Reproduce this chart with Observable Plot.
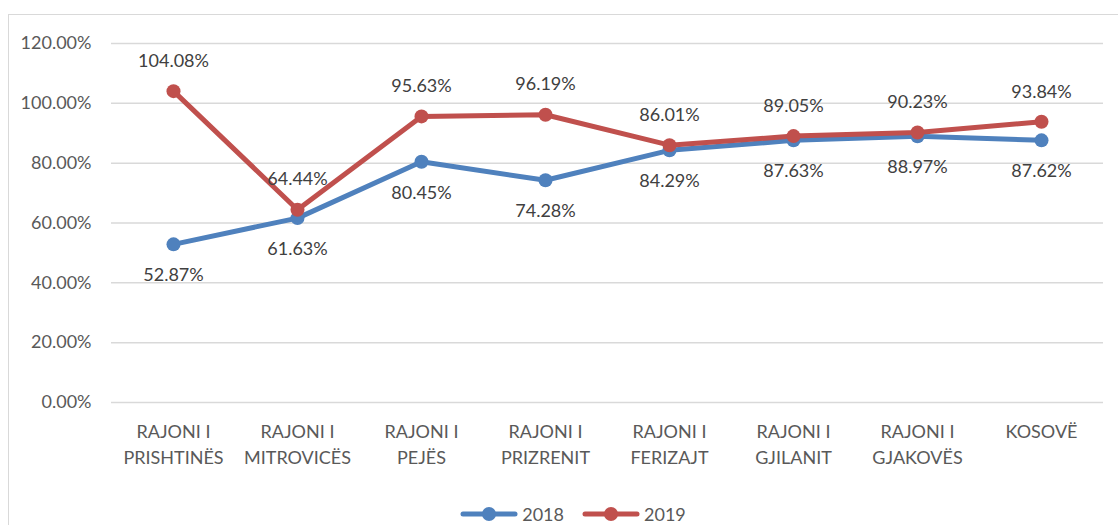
<!DOCTYPE html>
<html>
<head>
<meta charset="utf-8">
<script src="https://cdn.jsdelivr.net/npm/d3@7"></script>
<script src="https://cdn.jsdelivr.net/npm/@observablehq/plot@0.6"></script>
<style>
  body { margin: 0; background: #fff; }
  #wrap { position: relative; width: 1118px; height: 525px; overflow: hidden; font-family: Lato, "Open Sans", sans-serif; }
  #frame { position: absolute; left: 8px; top: 14px; right: -5px; bottom: -5px; border-left: 1.5px solid #d9d9d9; border-top: 1.5px solid #d9d9d9; }
  #chart { position: absolute; left: 0; top: 0; }
  #legend { position: absolute; left: 0; top: 501px; width: 1118px; height: 25px; display: flex; justify-content: center; align-items: center; gap: 18px; font-size: 18px; color: #595959; padding-left: 28px; box-sizing: border-box; }
  .item { display: flex; align-items: center; gap: 4px; }
</style>
</head>
<body>
<div id="wrap">
  <div id="frame"></div>
  <div id="chart"></div>
  <div id="legend"></div>
</div>
<script>
const categories = ["RAJONI I\nPRISHTINËS", "RAJONI I\nMITROVICËS", "RAJONI I\nPEJËS", "RAJONI I\nPRIZRENIT", "RAJONI I\nFERIZAJT", "RAJONI I\nGJILANIT", "RAJONI I\nGJAKOVËS", "KOSOVË"];
const values2018 = [0.5287, 0.6163, 0.8045, 0.7428, 0.8429, 0.8763, 0.8897, 0.8762];
const values2019 = [1.0408, 0.6444, 0.9563, 0.9619, 0.8601, 0.8905, 0.9023, 0.9384];
const yTicks = [0, 0.2, 0.4, 0.6, 0.8, 1.0, 1.2];
const seriesNames = ["2018", "2019"];
const colors = ["#4F81BD", "#C0504D"];

const data = [];
categories.forEach((c, i) => {
  data.push({cat: c, year: "2018", v: values2018[i]});
  data.push({cat: c, year: "2019", v: values2019[i]});
});
const d18 = data.filter(d => d.year === "2018");
const d19 = data.filter(d => d.year === "2019");
const pct = v => (v * 100).toFixed(2) + "%";

const chart = Plot.plot({
  width: 1118,
  height: 500,
  marginLeft: 111,
  marginRight: 15,
  marginTop: 43,
  marginBottom: 98,
  style: { fontFamily: "Lato, 'Open Sans', sans-serif", background: "transparent" },
  x: { type: "band", domain: categories, padding: 0, label: null },
  y: { domain: [0, 1.2], label: null },
  color: { domain: seriesNames, range: colors },
  marks: [
    Plot.gridY(yTicks, { stroke: "#d9d9d9", strokeOpacity: 1, strokeWidth: 1.5 }),
    Plot.axisY({ ticks: yTicks, tickFormat: pct, tickSize: 0, tickPadding: 20, fontSize: 18, fill: "#595959", label: null }),
    Plot.axisX({ tickSize: 0, tickPadding: 18, fontSize: 18, fill: "#595959", lineHeight: 1.4, label: null }),
    Plot.line(data, { x: "cat", y: "v", z: "year", stroke: "year", strokeWidth: 5, strokeLinecap: "round", strokeLinejoin: "round" }),
    Plot.dot(data, { x: "cat", y: "v", fill: "year", r: 7 }),
    Plot.text(d19, { x: "cat", y: "v", text: d => pct(d.v), dy: -30, fontSize: 18, fill: "#404040" }),
    Plot.text(d18, { x: "cat", y: "v", text: d => pct(d.v), dy: 31, fontSize: 18, fill: "#404040" })
  ]
});
document.getElementById("chart").appendChild(chart);

const legend = document.getElementById("legend");
seriesNames.forEach((name, i) => {
  const item = document.createElement("div");
  item.className = "item";
  item.innerHTML = `<svg width="58" height="16"><line x1="3" y1="8" x2="55" y2="8" stroke="${colors[i]}" stroke-width="5" stroke-linecap="round"/><circle cx="29" cy="8" r="7" fill="${colors[i]}"/></svg><span>${name}</span>`;
  legend.appendChild(item);
});
</script>
</body>
</html>
